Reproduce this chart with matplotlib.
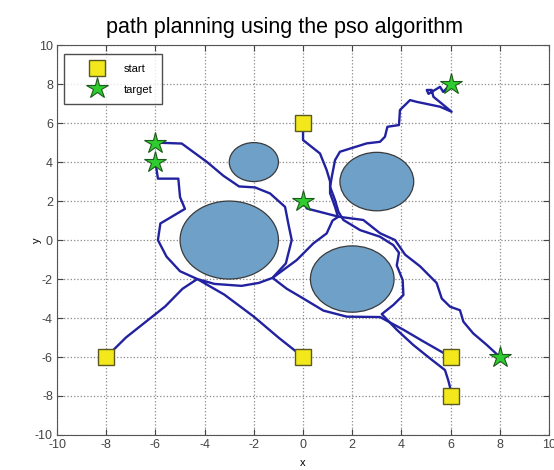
import matplotlib
matplotlib.use("Agg")
import matplotlib.pyplot as plt
from matplotlib.patches import Circle

plt.rcParams['font.family'] = ['Liberation Sans', 'DejaVu Sans']
plt.rcParams['axes.unicode_minus'] = False

# obstacles: centre x, centre y, radius
obs_x = [-2.0, -3.0, 3.0, 2.0]
obs_y = [4.0, 0.0, 3.0, -2.0]
obs_r = [1.0, 2.0, 1.5, 1.7]

start_x = [0, -8, 0, 6, 6]
start_y = [6, -6, -6, -6, -8]
target_x = [6, -6, -6, 0, 8]
target_y = [8, 5, 4, 2, -6]

# planned paths (x list, y list)
path1_x = [-8, -7.2, -6.3, -5.6, -4.9, -4.3, -5.0, -5.55, -5.9, -5.8, -4.8,
           -5.0, -5.07, -5.9, -6]
path1_y = [-6, -5.0, -4.1, -3.4, -2.5, -2.0, -1.6, -0.85, 0.0, 0.85, 1.6,
           2.2, 3.15, 3.15, 4]

path2_x = [0, -1.0, -2.0, -3.2, -4.3, -3.6, -2.5, -1.8, -1.24, -0.7, -0.46,
           -0.6, -0.73, -1.34, -1.95, -2.6, -3.24, -3.9, -4.93, -6]
path2_y = [-6, -5.0, -3.93, -2.8, -2.0, -2.25, -2.35, -2.2, -1.94, -1.2, 0.0,
           0.85, 1.7, 2.39, 2.7, 2.75, 3.3, 4.0, 4.95, 5]

path3_x = [6, 4.89, 4.08, 3.13, 1.78, 0.83, -0.12, -0.66, -1.24, -0.26, 0.42,
           0.96, 1.2, 1.44, 0.15, 0]
path3_y = [-6, -5.2, -4.6, -3.95, -3.93, -3.62, -2.9, -2.5, -1.94, -1.03,
           -0.17, 0.34, 1.0, 1.2, 1.62, 2]

path4_x = [6, 6.04, 5.9, 5.77, 5.16, 4.48, 3.81, 3.2, 3.67, 4.08, 4.05, 3.81,
           3.9, 3.67, 3.13, 2.32, 1.64, 1.44, 1.3, 1.1, 1.17, 1.3, 1.5, 2.59,
           3.13, 3.33, 3.43, 3.9, 3.94, 4.35, 4.62, 5.57, 6.04, 5.64, 5.3,
           5.23, 5.03, 5.1, 5.57, 5.7, 6]
path4_y = [-8, -7.86, -7.18, -6.67, -6.07, -5.38, -4.6, -3.8, -3.33, -2.82,
           -2.05, -1.3, -0.65, -0.26, 0.17, 0.51, 1.03, 1.45, 2.05, 2.73,
           3.25, 4.1, 4.53, 4.96, 5.04, 5.3, 5.81, 5.9, 6.67, 7.18, 7.09,
           6.84, 6.58, 7.0, 7.35, 7.7, 7.7, 7.5, 7.86, 7.6, 8]

path5_x = [0, 0, 0.69, 0.96, 1.1, 1.1, 1.3, 1.42, 2.45, 3.13, 3.74, 4.15,
           4.76, 5.43, 5.64, 5.98, 6.38, 6.52, 6.92, 7.47, 8]
path5_y = [6, 5.13, 4.44, 3.59, 3.0, 2.4, 1.7, 1.2, 1.03, 0.35, 0.0, -0.75,
           -1.35, -2.2, -3.0, -3.42, -3.6, -4.19, -4.79, -5.38, -6]

paths = [(path1_x, path1_y), (path2_x, path2_y), (path3_x, path3_y),
         (path4_x, path4_y), (path5_x, path5_y)]

fig = plt.figure(figsize=(5.54, 4.70), dpi=100)
ax = fig.add_axes([0.103, 0.0745, 0.888, 0.8295])

for cx, cy, r in zip(obs_x, obs_y, obs_r):
    ax.add_patch(Circle((cx, cy), r, facecolor='#6fa0c8',
                        edgecolor='#3a3a3a', linewidth=0.9, zorder=2))

for px, py in paths:
    ax.plot(px, py, color='#2222a0', linewidth=1.7, zorder=3)

ax.plot(start_x, start_y, 's', markersize=11, markerfacecolor='#f2e81c',
        markeredgecolor='#5a5a20', markeredgewidth=1.0, linestyle='none',
        label='start', zorder=4)
ax.plot(target_x, target_y, '*', markersize=16, markerfacecolor='#2ecc2e',
        markeredgecolor='#1d5a1d', markeredgewidth=0.8, linestyle='none',
        label='target', zorder=5)

ax.set_xlim(-10, 10)
ax.set_ylim(-10, 10)
ax.set_xticks(range(-10, 11, 2))
ax.set_yticks(range(-10, 11, 2))
ax.grid(True, linestyle=':', color='#8a8a8a', linewidth=0.9)
ax.tick_params(direction='in', labelsize=9, colors='#444444', length=4,
               pad=3, top=True, right=True)
for s in ax.spines.values():
    s.set_color('#555555')

ax.set_title('path planning using the pso algorithm', fontsize=15.5,
             x=0.462, pad=9)
ax.set_xlabel('x', fontsize=8)
ax.set_ylabel('y', fontsize=8)
ax.xaxis.set_label_coords(0.5, -0.06)
ax.yaxis.set_label_coords(-0.03, 0.5)

leg = ax.legend(loc='upper left', bbox_to_anchor=(0.014, 0.977),
                borderaxespad=0, fontsize=8, frameon=True, fancybox=False,
                edgecolor='#222222', borderpad=0.8, handlelength=4.3,
                handletextpad=0.3, labelspacing=0.8, handleheight=1.2)
leg.get_frame().set_linewidth(1.0)

fig.savefig('out.png', dpi=100)
